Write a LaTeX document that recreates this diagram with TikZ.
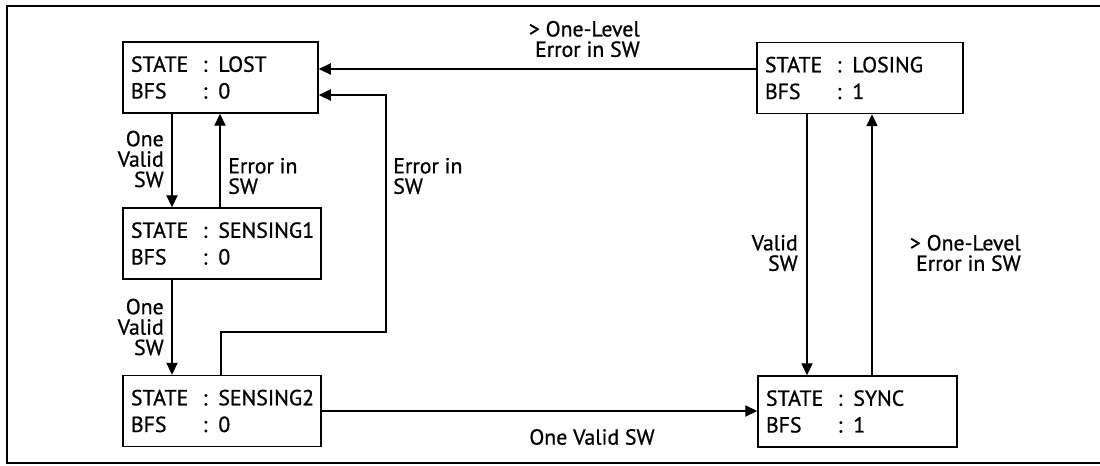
\documentclass[tikz,border=0pt]{standalone}
\usepackage{fontspec}
\setmainfont{PT Sans}[RawFeature={embolden=0.8}]
\usetikzlibrary{arrows.meta}
\newcommand\statetxt[2]{\mbox{\makebox[51pt][l]{STATE}: #1}\\\mbox{\makebox[51pt][l]{BFS}: #2}}
\begin{document}
\begin{tikzpicture}[x=0.025cm,y=-0.025cm,
  font=\fontsize{15.5}{19}\selectfont,
  statebox/.style={draw, line width=1.1pt, inner xsep=0.2cm, inner ysep=0pt, minimum height=1.775cm, align=left, anchor=center},
  conn/.style={line width=0.9pt},
  arr/.style={conn, -{Triangle[length=8.5pt,width=8pt]}},
  lbl/.style={font=\fontsize{15.5}{14.5}\selectfont, inner sep=0pt},
]
\useasboundingbox (0,0) rectangle (1100,466);
\draw[line width=2pt] (1100,6) -- (7,6) -- (7,463) -- (1100,463);

\node[statebox, text width=4.475cm] (lost) at (220.5,77.5) {\statetxt{LOST}{0}};
\node[statebox, text width=4.55cm] (s1) at (222,243.5) {\statetxt{SENSING1}{0}};
\node[statebox, text width=4.55cm] (s2) at (222,411) {\statetxt{SENSING2}{0}};
\node[statebox, text width=4.75cm] (losing) at (860,78) {\statetxt{LOSING}{1}};
\node[statebox, text width=4.575cm] (sync) at (857.5,411.5) {\statetxt{SYNC}{1}};

\coordinate (y1) at (0,69);
\coordinate (xa) at (172,0);
\coordinate (xb) at (220,0);
\coordinate (xc) at (807,0);
\coordinate (xd) at (872,0);
\coordinate (p1) at (221,332);
\coordinate (p2) at (386,332);
\coordinate (p3) at (386,95);

\draw[arr] (losing.west |- y1) -- (lost.east |- y1);
\draw[arr] (lost.south -| xa) -- (s1.north -| xa);
\draw[arr] (s1.north -| xb) -- (lost.south -| xb);
\draw[arr] (s1.south -| xa) -- (s2.north -| xa);
\draw[arr] (s2.north -| p1) -- (p1) -- (p2) -- (p3) -- (lost.east |- p3);
\draw[arr] (s2.east) -- (sync.west |- s2.east);
\draw[arr] (losing.south -| xc) -- (sync.north -| xc);
\draw[arr] (sync.north -| xd) -- (losing.south -| xd);

\node[lbl, align=right, anchor=east] (l1) at (640,39) {> One-Level\\Error in SW};
\node[lbl, align=right, anchor=east] (l2) at (164,159) {One\\Valid\\SW};
\node[lbl, align=left, anchor=west] (l3) at (228,176) {Error in\\SW};
\node[lbl, align=left, anchor=west] (l4) at (393,176) {Error in\\SW};
\node[lbl, align=right, anchor=east] (l5) at (164,327) {One\\Valid\\SW};
\node[lbl] (l6) at (592,437) {One Valid SW};
\node[lbl, align=right, anchor=east] (l7) at (798,253) {Valid\\SW};
\node[lbl, align=right, anchor=east] (l8) at (1021,253) {> One-Level\\Error in SW};
\end{tikzpicture}
\end{document}
